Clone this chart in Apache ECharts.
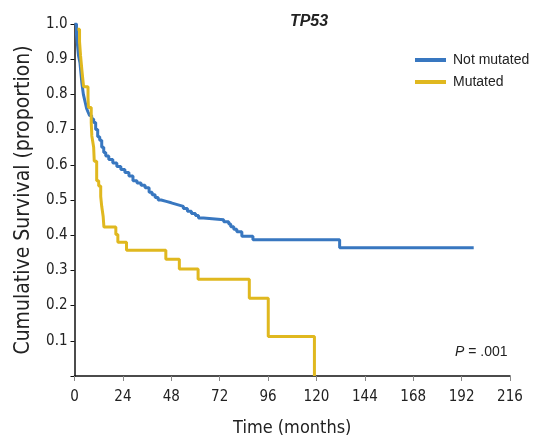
<!DOCTYPE html>
<html lang="en">
<head>
    <meta charset="UTF-8">
    <title>TP53 survival</title>
    <script src="https://cdn.jsdelivr.net/npm/echarts@6/dist/echarts.min.js"></script>
    <style type="text/css">
        html, body { margin:0; padding:0; background:#fff; }
        #main{ width:544px; height: 440px; }
    </style>
</head>
<body>
<div id="main"></div>
<script type="application/javascript">
    // x ticks (months) and y ticks
    var monthTicks = [0, 24, 48, 72, 96, 120, 144, 168, 192, 216];
    var seriesNames = ['Not mutated', 'Mutated'];

    // Kaplan-Meier curves: [month, survival]
    var notMutated = [
        [0,1.0],[1,0.97],[1.5,0.94],[2,0.91],[2.7,0.89],[3.2,0.86],[3.7,0.83],[4.4,0.80],
        [5.2,0.78],[6,0.76],[6.7,0.75],[7.5,0.74],[8.5,0.73],[9.5,0.72],[10.5,0.70],
        [11.5,0.68],[12.5,0.67],[13.5,0.65],[14.5,0.635],[15.5,0.625],[17,0.615],
        [19,0.605],[21,0.595],[23,0.587],[25,0.578],[27,0.568],[29,0.555],[31,0.548],
        [33,0.542],[35,0.535],[37,0.522],[38.5,0.515],[40,0.507],[41.5,0.5],[43,0.496],
        [45.5,0.492],[48,0.487],[51,0.482],[54,0.476],[56,0.468],[58,0.462],[60,0.456],
        [61.5,0.449],[64,0.444],[74,0.438],[76.5,0.432],[77.5,0.424],[79,0.417],
        [80.5,0.41],[83,0.397],[88.5,0.387],[131.5,0.364],[198,0.364]
    ];
    var mutated = [
        [1.5,0.985],[2.5,0.95],[3,0.91],[3.7,0.867],[4.5,0.822],[6.7,0.79],[6.9,0.763],
        [8.3,0.72],[8.6,0.682],[9.5,0.65],[9.8,0.61],[11,0.555],[12,0.54],[13,0.51],
        [13.5,0.482],[14.2,0.454],[14.6,0.423],[20.5,0.402],[21.5,0.38],[25.8,0.357],
        [45.3,0.332],[52,0.304],[61.3,0.275],[86.7,0.221],[96.1,0.112],[119,0]
    ];

    var blue = '#3877c0';
    var yellow = '#e0b81f';
    var narrow = '"Liberation Sans Narrow", "Arial Narrow", "DejaVu Sans Condensed", Roboto, sans-serif';

    var myChart = echarts.init(document.getElementById('main'));

    myChart.setOption({
        animation: false,
        title: {
            text: 'TP53',
            left: 304,
            textAlign: 'center',
            top: 9,
            textStyle: { fontFamily: 'Liberation Sans', fontSize: 16, fontWeight: 'bold', fontStyle: 'italic', color: '#222' }
        },
        legend: {
            data: seriesNames,
            orient: 'vertical',
            left: 410,
            top: 48,
            icon: 'rect',
            itemWidth: 31,
            itemHeight: 4,
            itemGap: 8,
            textStyle: { fontFamily: 'Liberation Sans', fontSize: 14, color: '#222', padding: [0, 0, 0, 2] }
        },
        grid: { left: 74.5, right: 34, top: 24, bottom: 64, outerBoundsMode: 'none' },
        xAxis: {
            type: 'value',
            min: 0,
            max: 216,
            interval: 24,
            name: 'Time (months)',
            nameLocation: 'middle',
            nameGap: 43,
            nameTextStyle: { fontFamily: narrow, fontSize: 18, color: '#222' },
            axisLine: { lineStyle: { color: '#111', width: 1.5 } },
            axisTick: { length: 5, lineStyle: { color: '#888' } },
            axisLabel: { fontFamily: narrow, fontSize: 15, color: '#222', margin: 14 },
            splitLine: { show: false }
        },
        yAxis: {
            type: 'value',
            min: 0,
            max: 1,
            interval: 0.1,
            name: 'Cumulative Survival (proportion)',
            nameLocation: 'middle',
            nameGap: 40,
            nameTextStyle: { fontFamily: narrow, fontSize: 21, color: '#222' },
            axisLine: { show: true, lineStyle: { color: '#111', width: 1.5 } },
            axisTick: { show: true, length: 4, lineStyle: { color: '#111' } },
            axisLabel: {
                fontFamily: narrow, fontSize: 15, color: '#222', margin: 7,
                formatter: function (v) { return v === 0 ? '' : v.toFixed(1); }
            },
            splitLine: { show: false }
        },
        graphic: [{
            type: 'text',
            left: 455,
            top: 345,
            style: {
                text: '{i|P} = .001',
                font: '14px "Liberation Sans"',
                fill: '#222',
                rich: { i: { fontStyle: 'italic', fontFamily: 'Liberation Sans', fontSize: 14 } }
            }
        }],
        series: [{
            name: seriesNames[0],
            type: 'line',
            step: 'end',
            symbol: 'none',
            data: notMutated,
            color: blue,
            lineStyle: { width: 3, color: blue }
        }, {
            name: seriesNames[1],
            type: 'line',
            step: 'end',
            symbol: 'none',
            data: mutated,
            color: yellow,
            lineStyle: { width: 3, color: yellow }
        }]
    });
</script>
</body>
</html>
